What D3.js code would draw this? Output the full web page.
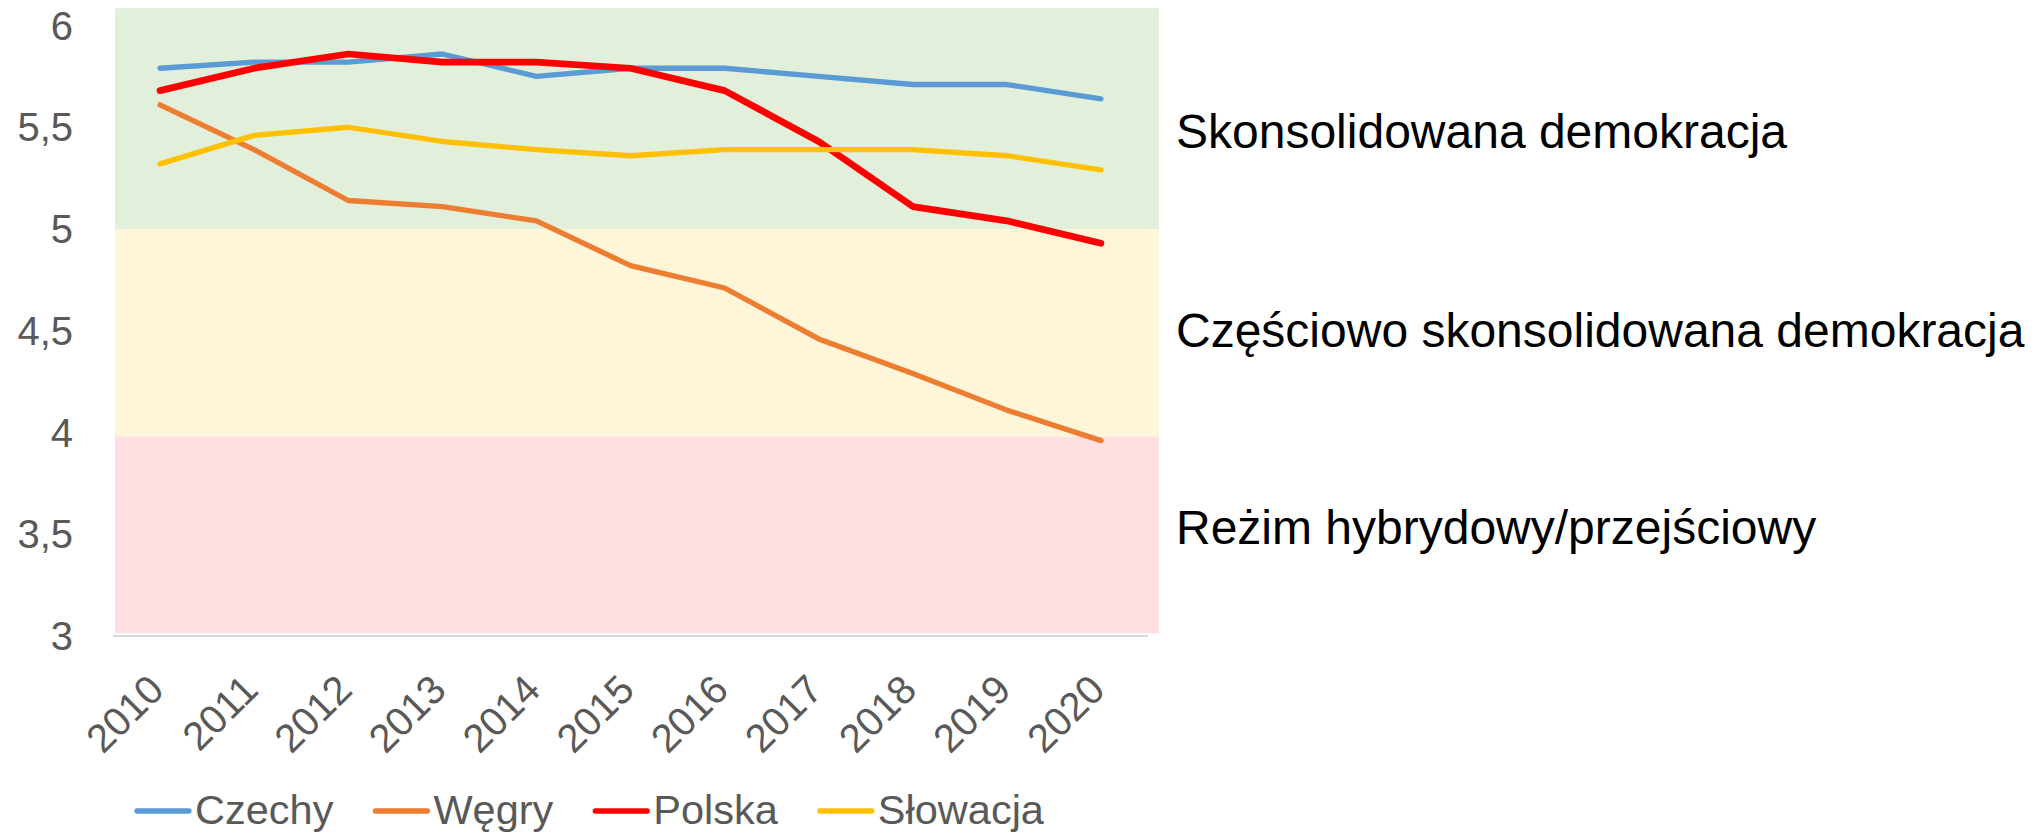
<!DOCTYPE html>
<html>
<head>
<meta charset="utf-8">
<script src="https://cdn.jsdelivr.net/npm/d3@7"></script>
<style>
  body { margin: 0; background: #fff; }
  text { font-family: "Liberation Sans", Arial, sans-serif; }
</style>
</head>
<body>
<script>
const years = ["2010","2011","2012","2013","2014","2015","2016","2017","2018","2019","2020"];
const czechy   = [5.79, 5.82, 5.82, 5.86, 5.75, 5.79, 5.79, 5.75, 5.71, 5.71, 5.64];
const wegry    = [5.61, 5.39, 5.14, 5.11, 5.04, 4.82, 4.71, 4.46, 4.29, 4.11, 3.96];
const polska   = [5.68, 5.79, 5.86, 5.82, 5.82, 5.79, 5.68, 5.43, 5.11, 5.04, 4.93];
const slowacja = [5.32, 5.46, 5.50, 5.43, 5.39, 5.36, 5.39, 5.39, 5.39, 5.36, 5.29];
const yTicks = [3, 3.5, 4, 4.5, 5, 5.5, 6];

// background zones: [from, to]
const zoneRanges = [[5, 6.085], [3.98, 5], [3.013, 3.98]];
const zoneLabels = ["Skonsolidowana demokracja", "Częściowo skonsolidowana demokracja", "Reżim hybrydowy/przejściowy"];
const zoneLabelAt = [5.40, 4.42, 3.45];

const series = [
  { name: "Czechy",   values: czechy,   color: "#5B9BD5", w: 5.3 },
  { name: "Węgry",    values: wegry,    color: "#ED7D31", w: 5.3 },
  { name: "Polska",   values: polska,   color: "#FF0000", w: 6.7 },
  { name: "Słowacja", values: slowacja, color: "#FFC000", w: 5.3 }
];
const zoneColors = ["#E2EFDA", "#FFF5D8", "#FFDFE1"];

const W = 2036, H = 834;
const svg = d3.select("body").append("svg").attr("width", W).attr("height", H);

const x = d3.scaleBand().domain(years).range([113, 1148]);
const y = d3.scaleLinear().domain([3, 6]).range([636, 25.5]);

// zones
svg.selectAll("rect.zone")
  .data(zoneRanges)
  .enter().append("rect")
  .attr("class", "zone")
  .attr("x", 115)
  .attr("width", 1159 - 115)
  .attr("y", d => y(d[1]))
  .attr("height", d => y(d[0]) - y(d[1]))
  .attr("fill", (d, i) => zoneColors[i]);

// x axis line
svg.append("line")
  .attr("x1", x.range()[0]).attr("x2", x.range()[1])
  .attr("y1", y(3)).attr("y2", y(3))
  .attr("stroke", "#D9D9D9").attr("stroke-width", 2);

// y labels
svg.selectAll("text.ytick")
  .data(yTicks)
  .enter().append("text")
  .attr("class", "ytick")
  .attr("x", 73)
  .attr("y", d => y(d))
  .attr("dy", "0.35em")
  .attr("text-anchor", "end")
  .attr("font-size", 40)
  .attr("fill", "#595959")
  .text(d => String(d).replace(".", ","));

// x labels
svg.selectAll("text.xtick")
  .data(years)
  .enter().append("text")
  .attr("class", "xtick")
  .attr("transform", d => `translate(${x(d) + x.bandwidth() / 2 + 6},692) rotate(-45)`)
  .attr("text-anchor", "end")
  .attr("font-size", 40)
  .attr("fill", "#595959")
  .text(d => d);

// lines
const line = d3.line()
  .x((d, i) => x(years[i]) + x.bandwidth() / 2)
  .y(d => y(d));

svg.selectAll("path.series")
  .data(series)
  .enter().append("path")
  .attr("class", "series")
  .attr("d", d => line(d.values))
  .attr("fill", "none")
  .attr("stroke", d => d.color)
  .attr("stroke-width", d => d.w)
  .attr("stroke-linejoin", "round")
  .attr("stroke-linecap", "round");

// zone labels
svg.selectAll("text.zone")
  .data(zoneLabels)
  .enter().append("text")
  .attr("class", "zone")
  .attr("x", 1176)
  .attr("y", (d, i) => y(zoneLabelAt[i]))
  .attr("font-size", 48)
  .attr("fill", "#000")
  .text(d => d);

// legend
let lx = 135;
const legend = svg.append("g");
series.forEach(s => {
  legend.append("line")
    .attr("x1", lx + 2).attr("x2", lx + 54)
    .attr("y1", 811).attr("y2", 811)
    .attr("stroke", s.color).attr("stroke-width", 5.3)
    .attr("stroke-linecap", "round");
  const t = legend.append("text")
    .attr("x", lx + 60).attr("y", 824)
    .attr("font-size", 41.5)
    .attr("fill", "#595959")
    .text(s.name);
  lx += 60 + t.node().getComputedTextLength() + 40;
});
</script>
</body>
</html>
